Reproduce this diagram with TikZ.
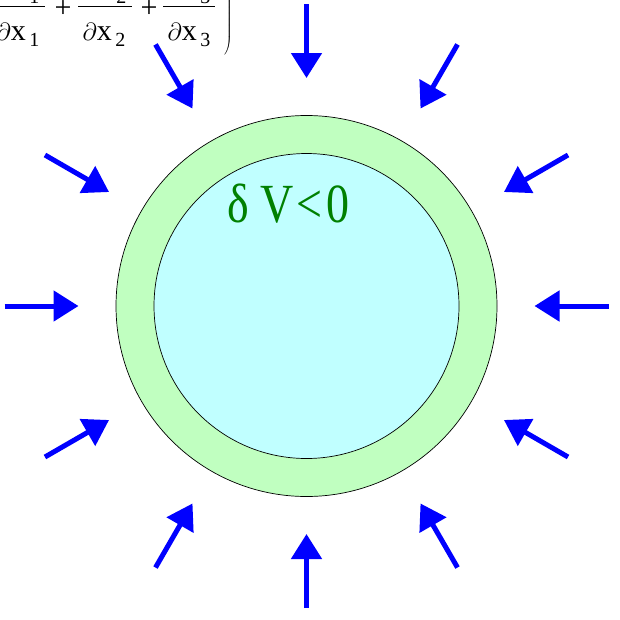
\documentclass[tikz,border=0pt]{standalone}
\usepackage{fontspec}
\setmainfont{Liberation Serif}
\usetikzlibrary{arrows.meta}
\definecolor{ringgreen}{RGB}{192,255,192}
\definecolor{corecyan}{RGB}{192,255,255}
\definecolor{txtgreen}{RGB}{0,128,0}
\tikzset{
  inarrow/.style={draw=blue, line width=5pt, -{Triangle[length=25pt,width=30pt]}},
  frac/.style={line width=0.9pt},
  formula/.style={inner sep=0pt, font=\fontsize{30}{30}\selectfont},
}
\newcommand{\dsub}[2]{$\partial$#1\raisebox{-6pt}{\fontsize{20}{20}\selectfont\,#2}}
\begin{document}
\begin{tikzpicture}[x=1pt,y=-1pt]
\useasboundingbox (0,0) rectangle (620,619);
% formula (cropped at top-left)
\draw[frac] (-12,6) -- (45,6);
\draw[frac] (78,6) -- (132,6);
\draw[frac] (163,6) -- (215,6);
\node[formula, anchor=base] (n1) at (18,-3) {\dsub{u}{1}};
\node[formula, anchor=base] (n2) at (105,-3) {\dsub{u}{2}};
\node[formula, anchor=base] (n3) at (189,-3) {\dsub{u}{3}};
\node[formula, anchor=base] (d1) at (18,40) {\dsub{x}{1}};
\node[formula, anchor=base] (d2) at (104,40) {\dsub{x}{2}};
\node[formula, anchor=base] (d3) at (189,40) {\dsub{x}{3}};
\node[formula] (p1) at (63,9.5) {+};
\node[formula] (p2) at (149,9.5) {+};
\node[inner sep=0pt, anchor=east] (rp) at (233,11) {$\left.\vrule height 44pt depth 44pt width 0pt\right)$};
% circles
\node[circle, minimum size=381pt, inner sep=0pt, fill=ringgreen, draw=black, line width=0.7pt] (outer) at (306.5,306) {};
\node[circle, minimum size=305pt, inner sep=0pt, fill=corecyan, draw=black, line width=0.7pt] (inner) at (306.5,306) {};
\node[anchor=base west, text=txtgreen, font=\fontsize{46}{46}\selectfont, yscale=1.2, inner sep=0pt] (lbl) at (227,222) {δ V\kern3pt<\kern4pt0};
% arrows
\coordinate (c) at (306.5,306);
\foreach \a in {0,30,...,330}{
  \coordinate (t\a) at ([shift={(\a:302)}]c);
  \coordinate (h\a) at ([shift={(\a:228)}]c);
  \draw[inarrow] (t\a) -- (h\a);
}
\end{tikzpicture}
\end{document}
